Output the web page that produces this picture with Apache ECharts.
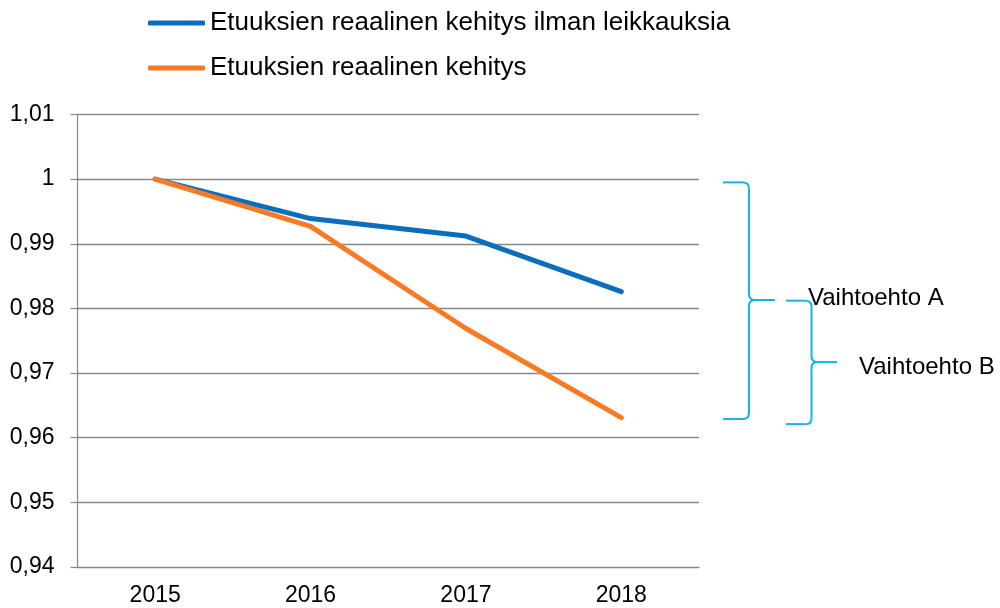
<!DOCTYPE html>
<html>
<head>
<meta charset="utf-8">
<script src="https://cdn.jsdelivr.net/npm/echarts@6/dist/echarts.min.js"></script>
<style>
html,body{margin:0;padding:0;background:#fff;}
#chart{width:1000px;height:608px;}
</style>
</head>
<body>
<div id="chart"></div>
<script>
var years = ['2015', '2016', '2017', '2018'];
var ilmanLeikkauksia = [1.0, 0.9939, 0.9912, 0.9826];
var kehitys = [1.0, 0.9927, 0.9769, 0.9631];
var seriesNames = ['Etuuksien reaalinen kehitys ilman leikkauksia', 'Etuuksien reaalinen kehitys'];
// brace extents as axis values: top, tip, bottom
var braceA = [0.9995, 0.9813, 0.9629];
var braceB = [0.9812, 0.9717, 0.9621];
var braceLabels = ['Vaihtoehto A', 'Vaihtoehto B'];

var font = 'Liberation Sans, Arial, sans-serif';
var gray = '#888888';

var chart = echarts.init(document.getElementById('chart'));
var option = {
    animation: false,
    legend: {
        orient: 'vertical',
        left: 143,
        top: 5,
        itemWidth: 57,
        itemHeight: 5,
        itemGap: 19,
        icon: 'roundRect',
        textStyle: { fontFamily: font, fontSize: 26, color: '#000' },
        data: seriesNames
    },
    grid: {
        left: 77.5,
        right: 301,
        top: 114.5,
        bottom: 41
    },
    xAxis: {
        type: 'category',
        data: years,
        boundaryGap: true,
        axisLine: { lineStyle: { color: gray, width: 1.2 } },
        axisTick: { length: 7, lineStyle: { color: gray, width: 1.2 } },
        axisLabel: { fontFamily: font, fontSize: 23, color: '#000', margin: 17 }
    },
    yAxis: {
        type: 'value',
        min: 0.94,
        max: 1.01,
        interval: 0.01,
        axisLine: { show: true, lineStyle: { color: gray, width: 1.2 } },
        axisTick: { show: true, length: 7, lineStyle: { color: gray, width: 1.2 } },
        splitLine: { lineStyle: { color: gray, width: 1.3 } },
        axisLabel: {
            fontFamily: font, fontSize: 23, color: '#000', margin: 23,
            formatter: function (v) { return String(+v.toFixed(2)).replace('.', ','); }
        }
    },
    series: [
        {
            name: seriesNames[0],
            type: 'line',
            data: ilmanLeikkauksia,
            symbol: 'none',
            color: '#0a6ebd',
            lineStyle: { width: 5, color: '#0a6ebd', cap: 'round', join: 'round' }
        },
        {
            name: seriesNames[1],
            type: 'line',
            data: kehitys,
            symbol: 'none',
            color: '#f97a25',
            lineStyle: { width: 5, color: '#f97a25', cap: 'round', join: 'round' }
        }
    ]
};
chart.setOption(option);

function yPix(v) {
    return chart.convertToPixel({ yAxisIndex: 0 }, v);
}
var braceStyle = { fill: null, stroke: '#14b2ec', lineWidth: 2 };

// curly brace built from straight lines and quadratic curves
function brace(x0, w, vals) {
    var yT = yPix(vals[0]), yM = yPix(vals[1]), yB = yPix(vals[2]);
    var xm = x0 + w / 2, xt = x0 + w, r = 6;
    function ln(a, b, c, d) {
        return { type: 'line', shape: { x1: a, y1: b, x2: c, y2: d }, style: braceStyle };
    }
    function cv(a, b, cx, cy, c, d) {
        return { type: 'bezierCurve', shape: { x1: a, y1: b, cpx1: cx, cpy1: cy, x2: c, y2: d }, style: braceStyle };
    }
    return [
        ln(x0, yT, xm - r, yT),
        cv(xm - r, yT, xm, yT, xm, yT + r),
        ln(xm, yT + r, xm, yM - r),
        cv(xm, yM - r, xm, yM, xm + r, yM),
        ln(xm + r, yM, xt, yM),
        cv(xm + r, yM, xm, yM, xm, yM + r),
        ln(xm, yM + r, xm, yB - r),
        cv(xm, yB - r, xm, yB, xm - r, yB),
        ln(xm - r, yB, x0, yB)
    ];
}
var graphics = brace(723, 52, braceA).concat(brace(786, 51, braceB));
graphics.push({
    type: 'text', left: 808, top: yPix(braceA[1]) - 14,
    style: { text: braceLabels[0], font: '24px ' + font, fill: '#000' }
});
graphics.push({
    type: 'text', left: 859, top: yPix(braceB[1]) - 7,
    style: { text: braceLabels[1], font: '24px ' + font, fill: '#000' }
});
chart.setOption({ graphic: graphics });
</script>
</body>
</html>
